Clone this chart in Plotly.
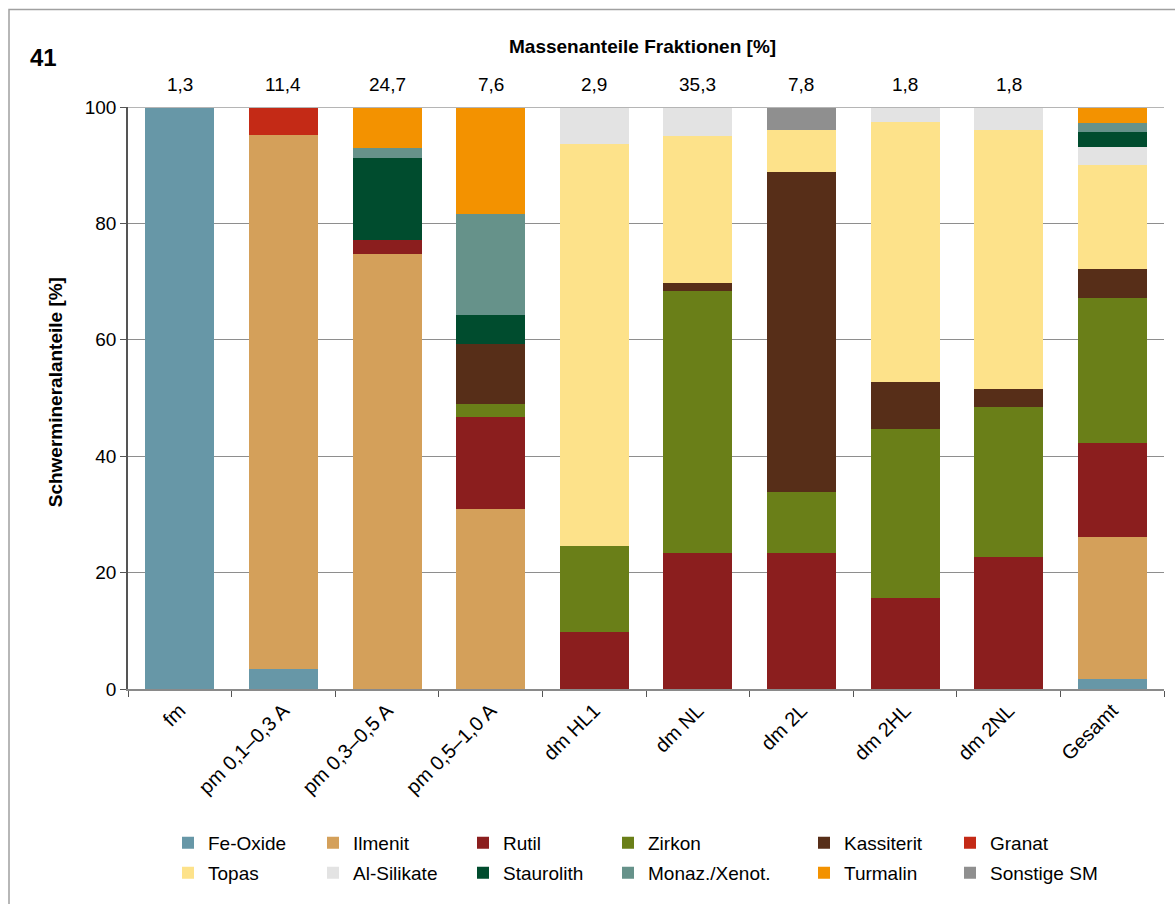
import plotly.graph_objects as go

categories = ["fm", "pm 0,1–0,3 A", "pm 0,3–0,5 A", "pm 0,5–1,0 A", "dm HL1",
              "dm NL", "dm 2L", "dm 2HL", "dm 2NL", "Gesamt"]
mass_fractions = ["1,3", "11,4", "24,7", "7,6", "2,9", "35,3", "7,8", "1,8", "1,8", ""]

fe_oxide    = [100.0, 3.4, 0, 0, 0, 0, 0, 0, 0, 1.7]
ilmenit     = [0, 91.8, 74.8, 31.0, 0, 0, 0, 0, 0, 24.5]
rutil       = [0, 0, 2.4, 15.8, 9.8, 23.3, 23.3, 15.6, 22.6, 16.0]
zirkon      = [0, 0, 0, 2.1, 14.7, 45.1, 10.5, 29.0, 25.9, 24.9]
kassiterit  = [0, 0, 0, 10.3, 0, 1.4, 55.1, 8.2, 3.0, 5.1]
granat      = [0, 4.8, 0, 0, 0, 0, 0, 0, 0, 0]
topas       = [0, 0, 0, 0, 69.2, 25.2, 7.2, 44.6, 44.6, 17.9]
al_silikate = [0, 0, 0, 0, 6.3, 5.0, 0, 2.6, 3.9, 3.0]
staurolith  = [0, 0, 14.1, 5.1, 0, 0, 0, 0, 0, 2.6]
monaz       = [0, 0, 1.6, 17.4, 0, 0, 0, 0, 0, 1.6]
turmalin    = [0, 0, 7.1, 18.3, 0, 0, 0, 0, 0, 2.7]
sonstige    = [0, 0, 0, 0, 0, 0, 3.9, 0, 0, 0]

series = [
    ("Fe-Oxide", fe_oxide, "#6797a7"),
    ("Ilmenit", ilmenit, "#d4a05a"),
    ("Rutil", rutil, "#8b1e1e"),
    ("Zirkon", zirkon, "#6a7f18"),
    ("Kassiterit", kassiterit, "#572e18"),
    ("Granat", granat, "#c42a16"),
    ("Topas", topas, "#fde28a"),
    ("Al-Silikate", al_silikate, "#e3e3e3"),
    ("Staurolith", staurolith, "#004c2e"),
    ("Monaz./Xenot.", monaz, "#66928a"),
    ("Turmalin", turmalin, "#f39200"),
    ("Sonstige SM", sonstige, "#8f8f8f"),
]

W, H = 1175, 904
L, R, T, B = 128, 1164, 106.5, 689
pw, ph = R - L, B - T
def px_x(x): return (x - L) / pw
def px_y(y): return (B - y) / ph

FONT = "Liberation Sans, Arial, sans-serif"
FS = 19

fig = go.Figure()
legend_text_x = [208, 353, 503, 648, 844, 990]
legend_rows = [843, 873]
layout_legends = {}
for i, (name, vals, color) in enumerate(series):
    key = "legend" if i == 0 else f"legend{i+1}"
    fig.add_trace(go.Bar(x=categories, y=vals, name=name, marker_color=color,
                         marker_line_width=0, legend=key, showlegend=True))
    col, row = i % 6, i // 6
    layout_legends[key] = dict(
        x=px_x(legend_text_x[col] - 40), y=px_y(legend_rows[row]),
        xanchor="left", yanchor="middle", bgcolor="rgba(0,0,0,0)",
        font=dict(family=FONT, size=FS, color="#000"), borderwidth=0, visible=True,
    )

ann = []
for c, m in zip(categories, mass_fractions):
    if m:
        ann.append(dict(x=c, y=px_y(84), xref="x", yref="paper", text=m, showarrow=False,
                        font=dict(family=FONT, size=FS, color="#000"), yanchor="middle"))
ann.append(dict(x=px_x(642), y=px_y(46), xref="paper", yref="paper",
                text="<b>Massenanteile Fraktionen [%]</b>", showarrow=False,
                font=dict(family=FONT, size=FS, color="#000"), yanchor="middle"))
ann.append(dict(x=px_x(43), y=px_y(57), xref="paper", yref="paper", text="<b>41</b>",
                showarrow=False, font=dict(family=FONT, size=24, color="#000"),
                xanchor="center", yanchor="middle"))
ann.append(dict(x=px_x(55), y=px_y(392), xref="paper", yref="paper",
                text="<b>Schwermineralanteile [%]</b>", textangle=-90, showarrow=False,
                font=dict(family=FONT, size=FS, color="#000"),
                xanchor="center", yanchor="middle"))

fig.update_layout(
    width=W, height=H, barmode="stack", bargap=0.334, showlegend=True,
    margin=dict(l=L, r=W - R, t=T, b=H - B, pad=0),
    plot_bgcolor="white", paper_bgcolor="white",
    font=dict(family=FONT, size=FS, color="#000"),
    annotations=ann,
    shapes=[
        dict(type="rect", xref="paper", yref="paper", x0=px_x(9), x1=px_x(1185),
             y0=px_y(915), y1=px_y(9), line=dict(color="#a0a0a0", width=1.5),
             fillcolor="rgba(0,0,0,0)", layer="below"),
        dict(type="line", xref="paper", yref="y", x0=0, x1=1, y0=100, y1=100,
             line=dict(color="#b5b5b5", width=2), layer="above"),
    ],
    **layout_legends,
)
fig.update_xaxes(showline=True, linecolor="#8a8a8a", linewidth=2,
                 ticks="outside", tickson="boundaries", ticklen=6, tickcolor="#555",
                 tickangle=-45, tickfont=dict(family=FONT, size=20, color="#000"),
                 showgrid=False)
fig.update_yaxes(range=[0, 100], dtick=20, showline=True, linecolor="#555", linewidth=1.5,
                 ticks="outside", ticklen=6, tickcolor="#555",
                 tickfont=dict(family=FONT, size=FS, color="#000"),
                 showgrid=True, gridcolor="#8e8e8e", gridwidth=1, zeroline=False)

fig.write_html("out.html", config={"displayModeBar": False},
               post_script="document.body.style.margin='0px';")
